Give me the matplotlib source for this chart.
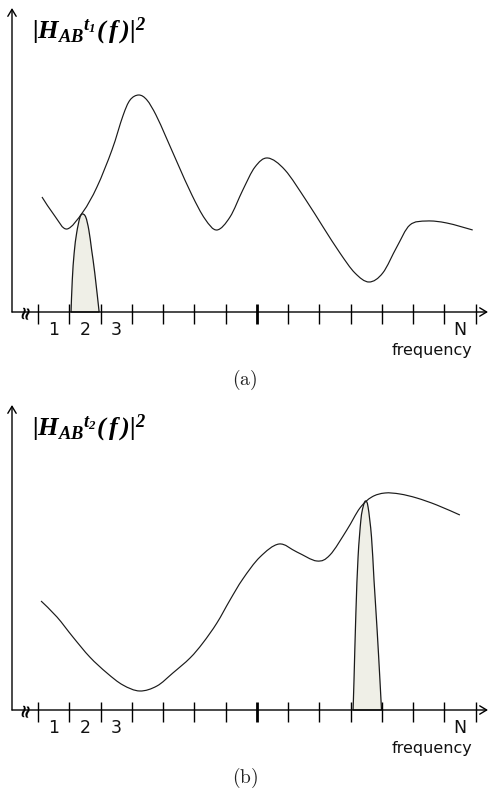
import numpy as np
import matplotlib
matplotlib.use('Agg')
import matplotlib.pyplot as plt
from matplotlib.path import Path
from matplotlib.patches import PathPatch

# ---------------- data ----------------
# x in frequency-bin units (tick k at x=k), y in arbitrary magnitude units
curve_a_x = [0.12, 0.53, 0.92, 1.43, 1.88, 2.36, 2.71, 2.94, 3.22, 3.48, 3.77, 4.09,
             4.47, 4.92, 5.34, 5.72, 6.14, 6.55, 6.94, 7.35, 7.90, 8.57, 9.12, 9.66,
             10.14, 10.59, 11.03, 11.48, 11.90, 12.44, 13.08, 13.91]
curve_a_y = [1.15, 0.96, 0.83, 1.00, 1.25, 1.62, 1.96, 2.12, 2.17, 2.12, 1.97, 1.75,
             1.48, 1.17, 0.93, 0.82, 0.95, 1.22, 1.45, 1.54, 1.42, 1.12, 0.85, 0.59,
             0.39, 0.30, 0.39, 0.65, 0.87, 0.91, 0.89, 0.82]
peak_a_x = [1.05, 1.09, 1.15, 1.23, 1.33, 1.41, 1.52, 1.62, 1.71, 1.81, 1.95]
peak_a_y = [0.00, 0.32, 0.59, 0.79, 0.94, 0.98, 0.95, 0.82, 0.62, 0.39, 0.00]

curve_b_x = [0.09, 0.60, 1.11, 1.65, 2.20, 2.71, 3.25, 3.80, 4.31, 4.86, 5.27, 5.72,
             6.14, 6.55, 7.10, 7.71, 8.28, 8.92, 9.34, 9.88, 10.30, 10.68, 11.10,
             11.58, 12.12, 12.76, 13.50]
curve_b_y = [1.09, 0.93, 0.73, 0.53, 0.37, 0.25, 0.19, 0.24, 0.37, 0.52, 0.67, 0.87,
             1.10, 1.31, 1.53, 1.66, 1.58, 1.49, 1.55, 1.80, 2.02, 2.13, 2.17,
             2.16, 2.12, 2.05, 1.95]
peak_b_x = [10.08, 10.11, 10.17, 10.24, 10.33, 10.40, 10.48, 10.56, 10.67, 10.75,
            10.85, 10.94, 10.99]
peak_b_y = [0.00, 0.30, 0.97, 1.53, 1.90, 2.03, 2.09, 2.03, 1.73, 1.30, 0.80, 0.30, 0.00]

tick_positions = list(range(15))
major_tick = 7
bin_labels = ['1', '2', '3', 'N']
bin_label_pos = [0.5, 1.5, 2.5, 13.5]
x_axis_label = 'frequency'
titles = [r'$|H_{AB}{}^{t_1}(\,f\,)|^2$', r'$|H_{AB}{}^{t_2}(\,f\,)|^2$']
captions = [r'$\mathrm{(a)}$', r'$\mathrm{(b)}$']

# ---------------- styling ----------------
plt.rcParams['mathtext.fontset'] = 'custom'
plt.rcParams['mathtext.it'] = 'Liberation Serif:italic:bold'
plt.rcParams['mathtext.rm'] = 'Liberation Serif:italic:bold'
plt.rcParams['mathtext.bf'] = 'Liberation Serif:italic:bold'
plt.rcParams['font.family'] = ['DejaVu Sans']

W, H = 490, 789
fig = plt.figure(figsize=(W / 100, H / 100), dpi=100)
LINE = '#1a1a1a'
FILL = '#efefe7'


def smooth(xs, ys):
    P = np.column_stack([xs, ys]).astype(float)
    n = len(P)
    ext = np.vstack([P[0], P, P[-1]])
    verts = [P[0]]
    codes = [Path.MOVETO]
    for i in range(n - 1):
        p0, p1, p2, p3 = ext[i], ext[i + 1], ext[i + 2], ext[i + 3]
        verts += [p1 + (p2 - p0) / 6, p2 - (p3 - p1) / 6, p2]
        codes += [Path.CURVE4] * 3
    return verts, codes


def panel(ax, cx, cy, px, py, title, caption, top_px, axis_px):
    xmin, xmax = -0.84, 14.40
    ymax = (axis_px - top_px) / 100.0
    ax.set_xlim(xmin, xmax)
    ax.set_ylim(0, ymax)
    ax.axis('off')

    # peak fill
    v, c = smooth(px, py)
    v = v + [v[0]]
    c = c + [Path.CLOSEPOLY]
    ax.add_patch(PathPatch(Path(v, c), facecolor=FILL, edgecolor=LINE, lw=0.9,
                           zorder=2, clip_on=False))
    # spectrum curve
    v, c = smooth(cx, cy)
    ax.add_patch(PathPatch(Path(v, c), facecolor='none', edgecolor=LINE, lw=0.85,
                           zorder=3, clip_on=False))

    # axes arrows
    ap = dict(arrowstyle='->, head_length=0.5, head_width=0.3', lw=1.0, color='black',
              shrinkA=0, shrinkB=0, mutation_scale=10)
    ax.annotate('', xy=(xmax, 0), xytext=(xmin, 0), arrowprops=ap, annotation_clip=False)
    ax.annotate('', xy=(xmin, ymax), xytext=(xmin, 0), arrowprops=ap, annotation_clip=False)

    # ticks
    for t in tick_positions:
        ax.vlines(t, -0.12, 0.08, color='black', lw=2.0 if t == major_tick else 1.0,
                  clip_on=False, zorder=4)
    for lab, pos in zip(bin_labels, bin_label_pos):
        ax.text(pos, -0.18, lab, ha='center', va='center', fontsize=12.5, color='#111111')
    ax.text(12.60, -0.38, x_axis_label, ha='center', va='center', fontsize=11.5,
            color='#111111')
    # axis break mark
    ax.text(-0.43, 0.0, '\u2248', ha='center', va='center', fontsize=13,
            fontweight='bold', rotation=80, color='black')

    fig.text(32 / W, 1 - (top_px + 30) / H, title, fontsize=19, ha='left',
             va='baseline', color='black')
    fig.text(245 / W, 1 - (axis_px + 68) / H, caption, fontsize=14, ha='center',
             va='center', math_fontfamily='cm', color='#222222')


ax_a = fig.add_axes([12 / W, (H - 312) / H, 476 / W, 304 / H])
panel(ax_a, curve_a_x, curve_a_y, peak_a_x, peak_a_y, titles[0], captions[0], 8, 312)
ax_b = fig.add_axes([12 / W, (H - 710) / H, 476 / W, 305 / H])
panel(ax_b, curve_b_x, curve_b_y, peak_b_x, peak_b_y, titles[1], captions[1], 405, 710)

fig.savefig('out.png', dpi=100, facecolor='white')
